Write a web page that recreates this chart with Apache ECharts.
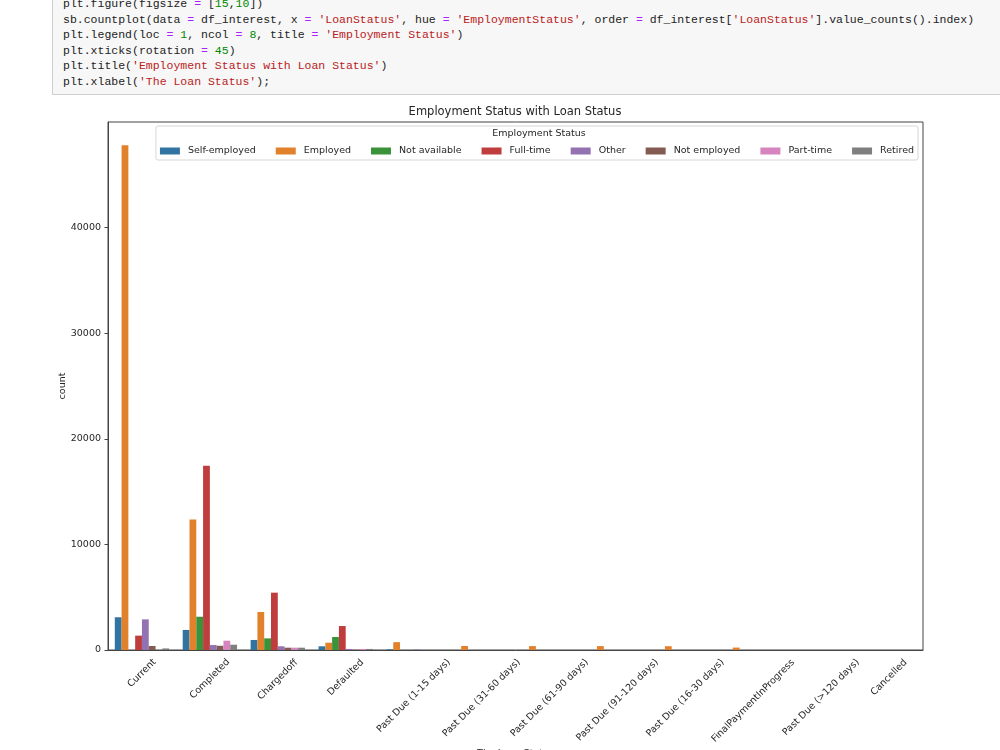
<!DOCTYPE html>
<html>
<head>
<meta charset="UTF-8">
<title>Employment Status with Loan Status</title>
<script src="https://cdn.jsdelivr.net/npm/echarts@6/dist/echarts.min.js"></script>
<style>
  body { margin: 0; background: #fff; }
  #cell {
    position: absolute; left: 52px; top: -12px; width: 960px; height: 107px;
    background: #f7f7f7; border: 1px solid #cfcfcf; box-sizing: border-box;
  }
  #cell pre {
    margin: 0; padding: 7px 0 0 10px;
    font-family: "Liberation Mono", "DejaVu Sans Mono", monospace;
    font-size: 11.5px; line-height: 15.5px; color: #222;
  }
  .o { color: #AA22FF; }
  .n { color: #008800; }
  .s { color: #BA2121; }
  #main { position: absolute; left: 0; top: 0; width: 1000px; height: 750px; }
</style>
</head>
<body>
<div id="main"></div>
<div id="cell"><pre>plt.figure(figsize <span class="o">=</span> [<span class="n">15</span>,<span class="n">10</span>])
sb.countplot(data <span class="o">=</span> df_interest, x <span class="o">=</span> <span class="s">'LoanStatus'</span>, hue <span class="o">=</span> <span class="s">'EmploymentStatus'</span>, order <span class="o">=</span> df_interest[<span class="s">'LoanStatus'</span>].value_counts().index)
plt.legend(loc <span class="o">=</span> <span class="n">1</span>, ncol <span class="o">=</span> <span class="n">8</span>, title <span class="o">=</span> <span class="s">'Employment Status'</span>)
plt.xticks(rotation <span class="o">=</span> <span class="n">45</span>)
plt.title(<span class="s">'Employment Status with Loan Status'</span>)
plt.xlabel(<span class="s">'The Loan Status'</span>);</pre></div>

<script>
// categories (value_counts order)
var loanStatus = ['Current', 'Completed', 'Chargedoff', 'Defaulted',
    'Past Due (1-15 days)', 'Past Due (31-60 days)', 'Past Due (61-90 days)',
    'Past Due (91-120 days)', 'Past Due (16-30 days)', 'FinalPaymentInProgress',
    'Past Due (>120 days)', 'Cancelled'];

// counts per employment status
var selfEmployed = [3100, 1900, 950, 350, 60, 0, 0, 0, 0, 0, 0, 0];
var employed     = [47800, 12350, 3600, 690, 740, 380, 370, 370, 360, 230, 0, 0];
var notAvailable = [0, 3150, 1100, 1230, 0, 0, 0, 0, 0, 0, 0, 0];
var fullTime     = [1360, 17440, 5430, 2270, 0, 0, 0, 0, 0, 0, 0, 0];
var other        = [2900, 470, 350, 100, 40, 0, 0, 0, 0, 0, 0, 0];
var notEmployed  = [380, 400, 220, 20, 0, 0, 0, 0, 0, 0, 0, 0];
var partTime     = [0, 880, 220, 100, 0, 0, 0, 0, 0, 0, 0, 0];
var retired      = [150, 500, 220, 100, 0, 0, 0, 0, 0, 0, 0, 0];

var hueNames = ['Self-employed', 'Employed', 'Not available', 'Full-time',
    'Other', 'Not employed', 'Part-time', 'Retired'];
var hueData = [selfEmployed, employed, notAvailable, fullTime,
    other, notEmployed, partTime, retired];
var colors = ['#3274a1', '#e1812c', '#3a923a', '#c03d3e',
    '#9372b2', '#845b53', '#d684bd', '#7f7f7f'];

var yTicks = [0, 10000, 20000, 30000, 40000, 50000];

var FONT = '"DejaVu Sans", sans-serif';
var txt = '#262626';

// matplotlib centres the rotated label box under the tick;
// push each label down by padding so it lines up the same way
var ctx = document.createElement('canvas').getContext('2d');
ctx.font = '9.5px "DejaVu Sans"';
var rich = {};
loanStatus.forEach(function (s, i) {
    var w = ctx.measureText(s).width;
    var p = Math.round(0.5 * (w + 11));
    rich['p' + i] = {
        padding: [p, p, 0, 0],
        fontSize: 9.5,
        fontFamily: FONT,
        color: txt
    };
});

var myChart = echarts.init(document.getElementById('main'));

var option = {
    animation: false,
    color: colors,
    title: [{
        text: 'Employment Status with Loan Status',
        left: 515,
        top: 106,
        padding: 0,
        textAlign: 'center',
        textStyle: { fontFamily: FONT, fontSize: 11.5, fontWeight: 'normal', color: txt }
    }, {
        text: 'Employment Status',
        left: 539,
        top: 129,
        padding: 0,
        textAlign: 'center',
        textStyle: { fontFamily: FONT, fontSize: 9.5, fontWeight: 'normal', color: txt }
    }],
    legend: {
        data: hueNames,
        right: 82,
        top: 126,
        padding: [20, 4, 4, 4],
        icon: 'rect',
        itemWidth: 20,
        itemHeight: 7,
        itemGap: 20,
        borderColor: '#d6d6d6',
        borderWidth: 1,
        borderRadius: 2,
        backgroundColor: 'rgba(255,255,255,0.8)',
        textStyle: { fontFamily: FONT, fontSize: 9.5, color: txt, padding: [0, 0, 0, 3] }
    },
    grid: {
        left: 108,
        right: 77,
        top: 122,
        bottom: 100,
        outerBoundsMode: 'none',
        containLabel: false,
        show: true,
        borderColor: '#444',
        borderWidth: 1
    },
    xAxis: {
        type: 'category',
        data: loanStatus,
        name: 'The Loan Status',
        nameLocation: 'middle',
        nameGap: 99,
        nameMoveOverlap: false,
        nameTextStyle: { fontFamily: FONT, fontSize: 9.5, color: txt },
        axisLine: { lineStyle: { color: '#444', width: 1 } },
        axisTick: { alignWithLabel: true, length: 3.5, lineStyle: { color: '#444' } },
        axisLabel: {
            interval: 0,
            rotate: 45,
            margin: 7,
            align: 'center',
            verticalAlign: 'middle',
            formatter: function (v, i) { return '{p' + i + '|' + v + '}'; },
            rich: rich
        }
    },
    yAxis: {
        type: 'value',
        min: 0,
        max: yTicks[yTicks.length - 1],
        interval: yTicks[1] - yTicks[0],
        name: 'count',
        nameLocation: 'middle',
        nameGap: 40,
        nameMoveOverlap: false,
        nameTextStyle: { fontFamily: FONT, fontSize: 9.5, color: txt },
        axisLine: { show: true, lineStyle: { color: '#444', width: 1 } },
        axisTick: { show: true, length: 3.5, lineStyle: { color: '#444' } },
        axisLabel: {
            margin: 7,
            fontFamily: FONT,
            fontSize: 9.5,
            color: txt,
            showMaxLabel: false,
            formatter: function (v) { return String(v); }
        },
        splitLine: { show: false }
    },
    series: hueNames.map(function (name, i) {
        return {
            name: name,
            type: 'bar',
            data: hueData[i],
            barGap: '0%',
            barCategoryGap: '20%'
        };
    })
};

myChart.setOption(option);
</script>
</body>
</html>
